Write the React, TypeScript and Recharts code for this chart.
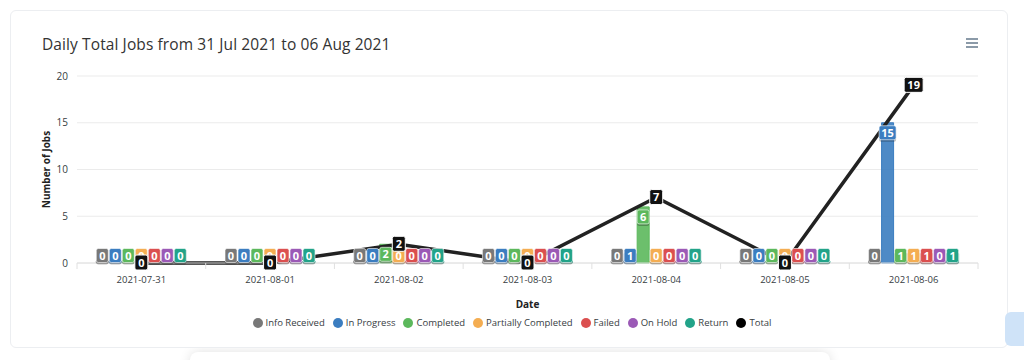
import React from 'react';
import {
  ComposedChart,
  Bar,
  Line,
  XAxis,
  YAxis,
  CartesianGrid,
  LabelList,
} from 'recharts';

const dates = ['2021-07-31', '2021-08-01', '2021-08-02', '2021-08-03', '2021-08-04', '2021-08-05', '2021-08-06'];
const infoReceived = [0, 0, 0, 0, 0, 0, 0];
const inProgress = [0, 0, 0, 0, 1, 0, 15];
const completed = [0, 0, 2, 0, 6, 0, 1];
const partiallyCompleted = [0, 0, 0, 0, 0, 0, 1];
const failed = [0, 0, 0, 0, 0, 0, 1];
const onHold = [0, 0, 0, 0, 0, 0, 0];
const returned = [0, 0, 0, 0, 0, 0, 1];
const total = [0, 0, 2, 0, 7, 0, 19];
const yTicks = [0, 5, 10, 15, 20];

const series = [
  { key: 'info', name: 'Info Received', color: '#787878', values: infoReceived },
  { key: 'progress', name: 'In Progress', color: '#3b7dc0', values: inProgress },
  { key: 'completed', name: 'Completed', color: '#5cb85c', values: completed },
  { key: 'partial', name: 'Partially Completed', color: '#f4ad52', values: partiallyCompleted },
  { key: 'failed', name: 'Failed', color: '#db4f4f', values: failed },
  { key: 'hold', name: 'On Hold', color: '#9b59b6', values: onHold },
  { key: 'return', name: 'Return', color: '#22a389', values: returned },
];

const data = dates.map((date, i) => {
  const row: any = { date, total: total[i] };
  series.forEach((s) => (row[s.key] = s.values[i]));
  return row;
});

const FONT = '"Open Sans", sans-serif';
const TEXT = '#373d3f';

function barLabel(color: string) {
  return (props: any) => {
    const { x, y, width, height, value } = props;
    const w = String(value).length > 1 ? 17 : 12;
    const cx = x + width / 2;
    const cy = Math.min(y + 10, y + height - 7.5);
    return (
      <g>
        <rect x={cx - w / 2} y={cy - 6} width={w} height={15} rx={2} fill="#000" opacity={0.25} />
        <rect x={cx - w / 2} y={cy - 7} width={w} height={14} rx={2} fill={color} stroke="#fff" strokeOpacity={0.6} strokeWidth={1} />
        <text x={cx} y={cy + 4} textAnchor="middle" fill="#fff" fontSize={11} fontWeight={700} fontFamily={FONT}>
          {value}
        </text>
      </g>
    );
  };
}

function lineLabel(props: any) {
  const { x, y, value } = props;
  const w = String(value).length > 1 ? 19 : 13;
  const cy = y - 1;
  return (
    <g>
      <rect x={x - w / 2} y={cy - 7} width={w} height={15} rx={2} fill="#111" stroke="#fff" strokeWidth={1} />
      <text x={x} y={cy + 4.5} textAnchor="middle" fill="#fff" fontSize={11} fontWeight={700} fontFamily={FONT}>
        {value}
      </text>
    </g>
  );
}

function XTick(props: any) {
  const { x, y, payload, index, width, visibleTicksCount } = props;
  const band = width / visibleTicksCount;
  return (
    <g>
      <line x1={x - band / 2} x2={x - band / 2} y1={y - 8} y2={y - 2} stroke="#e0e0e0" />
      {index === visibleTicksCount - 1 && (
        <line x1={x + band / 2} x2={x + band / 2} y1={y - 8} y2={y - 2} stroke="#e0e0e0" />
      )}
      <text x={x} y={y + 12} textAnchor="middle" fill={TEXT} fontSize={9.5} fontFamily={FONT}>
        {payload.value}
      </text>
    </g>
  );
}

export default function App() {
  return (
    <div style={{ position: 'absolute', left: 0, top: 0, width: 1024, height: 360, background: '#fff', overflow: 'hidden', fontFamily: FONT }}>
      <div
        style={{
          position: 'absolute',
          left: 190,
          top: 352,
          width: 640,
          height: 40,
          borderRadius: 8,
          boxShadow: '0 0 12px rgba(0,0,0,0.12)',
          background: '#fff',
        }}
      />
      <div
        style={{
          position: 'absolute',
          left: 10,
          top: 10,
          width: 996,
          height: 336,
          border: '1px solid #eceef1',
          borderRadius: 6,
          background: '#fff',
        }}
      />
      <div style={{ position: 'absolute', left: 42, top: 33, fontSize: 15.5, color: '#333', letterSpacing: 0.1 }}>
        Daily Total Jobs from 31 Jul 2021 to 06 Aug 2021
      </div>
      <svg style={{ position: 'absolute', left: 964, top: 36 }} width={16} height={14}>
        {[3, 7, 11].map((yy) => (
          <line key={yy} x1={2} x2={14} y1={yy} y2={yy} stroke="#6e8192" strokeWidth={1.6} />
        ))}
      </svg>
      <div
        style={{
          position: 'absolute',
          left: 1005,
          top: 312,
          width: 34,
          height: 34,
          borderRadius: 6,
          background: '#cfe3f8',
        }}
      />
      <div style={{ position: 'absolute', left: 0, top: 0 }}>
        <ComposedChart
          width={1000}
          height={340}
          data={data}
          margin={{ top: 76, right: 22, left: 37, bottom: 47 }}
          barCategoryGap="15%"
          barGap={1}
        >
          <CartesianGrid vertical={false} stroke="#ebebeb" />
          <XAxis
            dataKey="date"
            height={30}
            stroke="#e0e0e0"
            tickLine={false}
            tick={<XTick />}
            interval={0}
            label={{
              content: (p: any) => {
                const vb = p.viewBox;
                return (
                  <text x={vb.x + vb.width / 2} y={vb.y + 45} textAnchor="middle" fill="#222" fontSize={10} fontWeight={700} fontFamily={FONT}>
                    Date
                  </text>
                );
              },
            }}
          />
          <YAxis
            width={40}
            domain={[0, 20]}
            ticks={yTicks}
            tickLine={false}
            axisLine={false}
            tickMargin={3}
            tick={{ fill: TEXT, fontSize: 10, fontFamily: FONT }}
            label={{
              content: (p: any) => {
                const vb = p.viewBox;
                const cx = vb.x + 13;
                const cy = vb.y + vb.height / 2;
                return (
                  <text x={cx} y={cy} transform={`rotate(-90 ${cx} ${cy})`} textAnchor="middle" fill="#222" fontSize={10} fontWeight={700} fontFamily={FONT}>
                    Number of Jobs
                  </text>
                );
              },
            }}
          />
          {series.map((s) => (
            <Bar
              key={s.key}
              dataKey={s.key}
              name={s.name}
              fill={s.color}
              fillOpacity={0.9}
              stroke={s.color}
              minPointSize={2}
              isAnimationActive={false}
            >
              <LabelList dataKey={s.key} content={barLabel(s.color)} />
            </Bar>
          ))}
          <Line type="linear" dataKey="total" name="Total" stroke="#222" strokeWidth={3.5} dot={false} isAnimationActive={false}>
            <LabelList dataKey="total" content={lineLabel} />
          </Line>
        </ComposedChart>
      </div>
      <div
        style={{
          position: 'absolute',
          left: 0,
          width: 1024,
          top: 316,
          display: 'flex',
          justifyContent: 'center',
          boxSizing: 'border-box',
          gap: 8,
          fontSize: 9.5,
          color: TEXT,
        }}
      >
        {[...series, { key: 'total', name: 'Total', color: '#000' }].map((s) => (
          <div key={s.key} style={{ display: 'flex', alignItems: 'center', gap: 3 }}>
            <span style={{ width: 10, height: 10, borderRadius: 5, background: s.color, display: 'inline-block' }} />
            <span>{s.name}</span>
          </div>
        ))}
      </div>
    </div>
  );
}
